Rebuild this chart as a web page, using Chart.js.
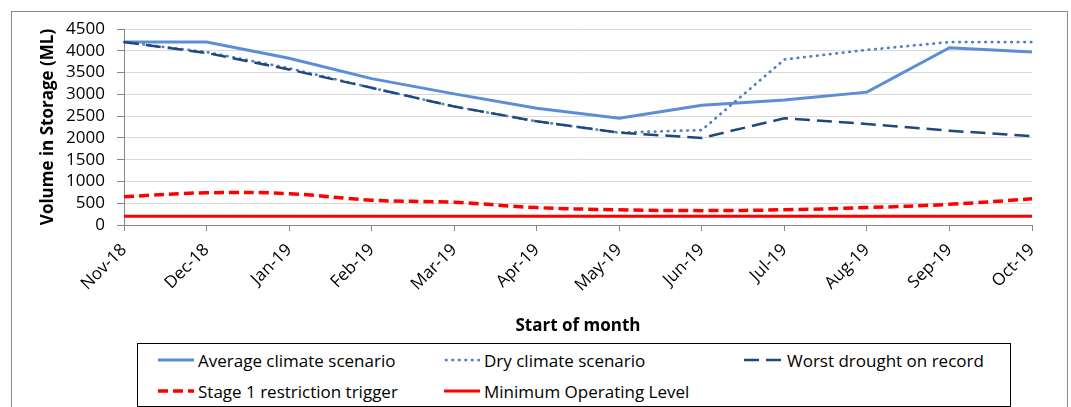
<!DOCTYPE html>
<html>
<head>
<meta charset="utf-8">
<script src="https://cdn.jsdelivr.net/npm/chart.js@4/dist/chart.umd.min.js"></script>
<style>
  body { margin: 0; background: #fff; }
  #wrap { position: relative; width: 1071px; height: 407px; overflow: hidden; font-family: 'Open Sans', sans-serif; }
  #frame { position: absolute; left: 11px; top: 11px; width: 1055px; height: 420px; border: 1px solid #8c8c8c; }
  #chart { position: absolute; left: 0; top: 0; }
  #legend { position: absolute; left: 137px; top: 343px; width: 872px; height: 62px; border: 1px solid #000; background: #fff; }
  .item { position: absolute; display: flex; align-items: center; font-size: 17px; color: #000; white-space: nowrap; height: 22px; }
  .item svg { margin-right: 4px; }
</style>
</head>
<body>
<div id="wrap">
  <div id="frame"></div>
  <canvas id="chart" width="1071" height="407"></canvas>
  <div id="legend"></div>
</div>
<script>
// months along the x axis
const labels = ['Nov-18', 'Dec-18', 'Jan-19', 'Feb-19', 'Mar-19', 'Apr-19', 'May-19', 'Jun-19', 'Jul-19', 'Aug-19', 'Sep-19', 'Oct-19']

// storage volumes (ML)
const avgValues = [4200, 4200, 3830, 3360, 3010, 2680, 2450, 2750, 2870, 3050, 4070, 3970]
const dryValues = [4200, 3970, 3600, 3150, 2720, 2380, 2120, 2180, 3800, 4020, 4200, 4200]
const worstValues = [4200, 3950, 3570, 3150, 2720, 2380, 2120, 2000, 2450, 2320, 2165, 2040]
const stage1Values = [650, 740, 720, 570, 520, 400, 350, 330, 350, 400, 475, 600]
const minLevelValues = [200, 200, 200, 200, 200, 200, 200, 200, 200, 200, 200, 200]

Chart.defaults.font.family = "'Open Sans', sans-serif"
Chart.defaults.font.size = 17
Chart.defaults.color = '#000'

const datasets = [
  { label: 'Average climate scenario', data: avgValues, borderColor: '#5b8ed6', borderWidth: 3, order: 5 },
  { label: 'Dry climate scenario', data: dryValues, borderColor: '#4f81bd', borderWidth: 2.75, borderDash: [0.5, 6], borderCapStyle: 'round', order: 4 },
  { label: 'Worst drought on record', data: worstValues, borderColor: '#1f497d', borderWidth: 2.5, borderDash: [15, 7], order: 3 },
  { label: 'Stage 1 restriction trigger', data: stage1Values, borderColor: '#ff0000', borderWidth: 3.5, borderDash: [10, 5], tension: 0.4, order: 2 },
  { label: 'Minimum Operating Level', data: minLevelValues, borderColor: '#ff0000', borderWidth: 3, order: 1 }
]

new Chart(document.getElementById('chart'), {
  type: 'line',
  data: { labels, datasets },
  options: {
    responsive: false,
    animation: false,
    layout: { padding: { left: 34, right: 39, top: 29, bottom: 67 } },
    elements: { point: { radius: 0 } },
    plugins: { legend: { display: false }, tooltip: { enabled: false } },
    scales: {
      x: {
        offset: false,
        border: { color: '#868686' },
        grid: { drawOnChartArea: false, tickLength: 6, tickColor: '#868686' },
        ticks: { autoSkip: false, minRotation: 45, maxRotation: 45, padding: 9 },
        title: { display: true, text: 'Start of month', font: { weight: 'bold' } },
        afterFit: (s) => { s.height = 115 }
      },
      y: {
        min: 0,
        max: 4500,
        border: { color: '#868686' },
        grid: { color: '#d9d9d9', tickLength: 7, tickColor: '#868686' },
        ticks: { stepSize: 500, autoSkip: false, padding: 12, callback: (v) => String(v) },
        title: { display: true, text: 'Volume in Storage (ML)', font: { weight: 'bold' } },
        afterFit: (s) => { s.width = 90 }
      }
    }
  }
})

// legend built from the datasets, laid out in columns like the original
const legendCols = [20, 306, 606]
const legendRows = [5, 36]
const legend = document.getElementById('legend')
datasets.forEach((ds, i) => {
  const item = document.createElement('div')
  item.className = 'item'
  item.style.left = legendCols[i % 3] + 'px'
  item.style.top = legendRows[Math.floor(i / 3)] + 'px'
  const dash = ds.borderDash ? ds.borderDash.join(' ') : 'none'
  const cap = ds.borderCapStyle || 'butt'
  const w = i === 2 ? 39 : 36
  item.innerHTML = '<svg width="' + w + '" height="8"><line x1="' + (cap === 'round' ? 2 : 0) + '" y1="4" x2="' + w + '" y2="4" stroke="' + ds.borderColor +
    '" stroke-width="' + ds.borderWidth + '" stroke-dasharray="' + dash + '" stroke-linecap="' + cap + '"/></svg><span>' + ds.label + '</span>'
  legend.appendChild(item)
})
</script>
</body>
</html>
